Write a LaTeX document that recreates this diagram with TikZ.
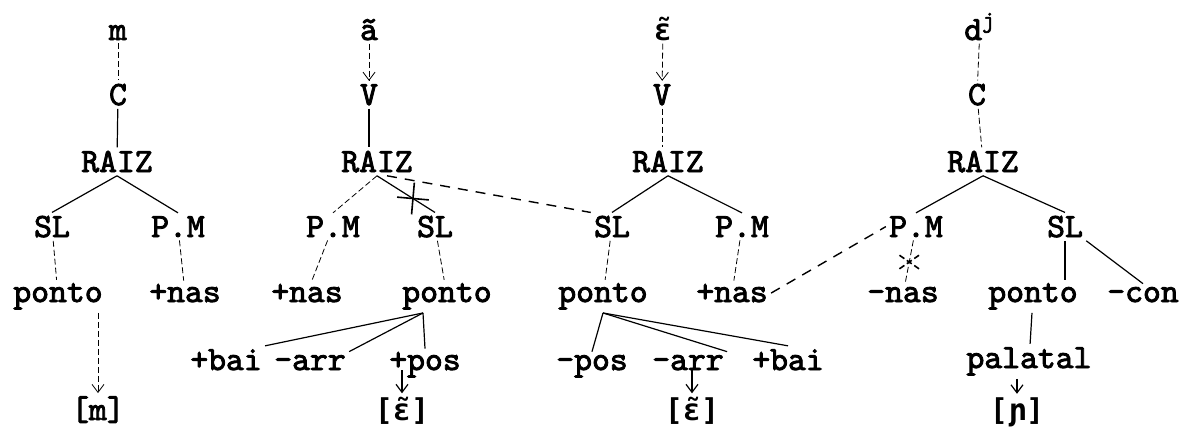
\documentclass[tikz,border=0pt]{standalone}
\usepackage{fontspec}
\newfontfamily\typer{lmmono10-regular.otf}[FakeBold=2.5]
\newfontfamily\ipafont{DejaVu Sans Mono}
\usetikzlibrary{arrows.meta,shapes.misc}

\tikzset{
  seg/.style={font=\typer\fontsize{17}{20}\selectfont, inner sep=1.5pt, anchor=base},
  ipa/.style={seg, font=\ipafont\bfseries\fontsize{15}{18}\selectfont},
  tie/.style={line width=0.6pt},
  faint/.style={line width=0.4pt, dash pattern=on 3pt off 1.5pt},
  link/.style={line width=0.7pt, dash pattern=on 5pt off 4pt},
  tip/.style={-{Straight Barb[length=4pt,width=6pt]}},
  cut/.style={cross out, draw, line width=0.8pt, inner sep=0pt},
}

\begin{document}
\begin{tikzpicture}[x=0.5pt,y=-0.5pt]
	\useasboundingbox (0,0) rectangle (1184,436);

	% tree of [m]
	\node[seg] (m1) at (118,40) {m};
	\node[seg] (c1) at (118,105) {C};
	\node[seg] (r1) at (117,172) {RAIZ};
	\node[seg] (sl1) at (52,237) {SL};
	\node[seg] (pm1) at (178,237) {P.M};
	\node[seg] (p1) at (58,302) {ponto};
	\node[seg] (n1) at (185,302) {+nas};
	\node[seg] (b1) at (98,420) {[m]};

	\draw[faint] (m1) -- (c1);
	\draw[tie] (c1) -- (r1);
	\draw[tie] (r1.south) -- (sl1.north);
	\draw[tie] (r1.south) -- (pm1.north);
	\draw[faint] (sl1) -- (p1);
	\draw[faint] (pm1) -- (n1);
	\draw[faint,tip] (p1.south -| b1.north) -- (b1.north);

	% tree of a~
	\node[seg] (a2) at (369,40) {ã};
	\node[seg] (v2) at (369,105) {V};
	\node[seg] (r2) at (377,172) {RAIZ};
	\node[seg] (pm2) at (333,237) {P.M};
	\node[seg] (sl2) at (435,237) {SL};
	\node[seg] (n2) at (307,302) {+nas};
	\node[seg] (p2) at (447,302) {ponto};
	\node[seg] (bai2) at (226,370) {+bai};
	\node[seg] (arr2) at (310,370) {-arr};
	\node[seg] (pos2) at (425,370) {+pos};
	\node[ipa] (b2) at (402,420) {[ɛ̃]};

	\draw[faint,tip] (a2) -- (v2);
	\draw[tie] (v2) -- (v2 |- r2.north);
	\draw[faint] (r2.south) -- (pm2.north);
	\draw[tie] (r2.south) -- node[cut, pos=0.62, minimum size=10.5pt, rotate=40] {} (sl2.north);
	\draw[faint] (pm2) -- (n2);
	\draw[faint] (sl2) -- (p2);
	\draw[tie] ([xshift=-12pt]p2.south) -- (bai2.north east);
	\draw[tie] ([xshift=-12pt]p2.south) -- (arr2.north east);
	\draw[tie] ([xshift=-12pt]p2.south) -- (pos2.north);
	\draw[tie,tip] (b2.north |- pos2.base) -- (b2.north);

	% tree of e~
	\node[ipa] (e3) at (663,40) {ɛ̃};
	\node[seg] (v3) at (662,105) {V};
	\node[seg] (r3) at (668,172) {RAIZ};
	\node[seg] (sl3) at (612,237) {SL};
	\node[seg] (pm3) at (742,237) {P.M};
	\node[seg] (p3) at (603,302) {ponto};
	\node[seg] (n3) at (732,302) {+nas};
	\node[seg] (pos3) at (592,370) {-pos};
	\node[seg] (arr3) at (688,370) {-arr};
	\node[seg] (bai3) at (788,370) {+bai};
	\node[ipa] (b3) at (692,420) {[ɛ̃]};

	\draw[faint,tip] (e3) -- (v3);
	\draw[faint] (v3) -- (v3 |- r3.north);
	\draw[tie] (r3.south) -- (sl3.north);
	\draw[tie] (r3.south) -- (pm3.north);
	\draw[faint] (sl3) -- (p3);
	\draw[faint] (pm3) -- (n3);
	\draw[tie] (p3.south) -- (pos3.north);
	\draw[tie] (p3.south) -- (arr3.north east);
	\draw[tie] (p3.south) -- (bai3.north);
	\draw[tie,tip] (b3.north |- arr3.base) -- (b3.north);

	% tree of d^j
	\node[seg] (d4) at (980,40) {d\textsuperscript{j}};
	\node[seg] (c4) at (977,105) {C};
	\node[seg] (r4) at (983,172) {RAIZ};
	\node[seg] (pm4) at (916,237) {P.M};
	\node[seg] (sl4) at (1065,237) {SL};
	\node[seg] (n4) at (903,302) {-nas};
	\node[seg] (p4) at (1033,302) {ponto};
	\node[seg] (con4) at (1143,302) {-con};
	\node[seg] (pal4) at (1029,368) {palatal};
	\node[ipa] (b4) at (1017,420) {[ɲ]};

	\draw[faint] (d4) -- (c4);
	\draw[faint] (c4) -- (r4);
	\draw[tie] (r4.south) -- (pm4.north);
	\draw[tie] (r4.south) -- (sl4.north);
	\draw[faint] (pm4) -- node[cut, pos=0.5, minimum width=9pt, minimum height=6pt] {} (n4);
	\draw[tie] (sl4.south) -- (sl4.south |- p4.north);
	\draw[tie] (sl4.south east) -- (con4.north);
	\draw[tie] (p4) -- (pal4);
	\draw[tie,tip] (b4.north |- pal4.south) -- (b4.north);

	% spreading across the trees
	\draw[link] ([xshift=5pt]r2.south) -- (sl3.north west);
	\draw[link] (n3.east) -- (pm4.west);
\end{tikzpicture}
\end{document}
